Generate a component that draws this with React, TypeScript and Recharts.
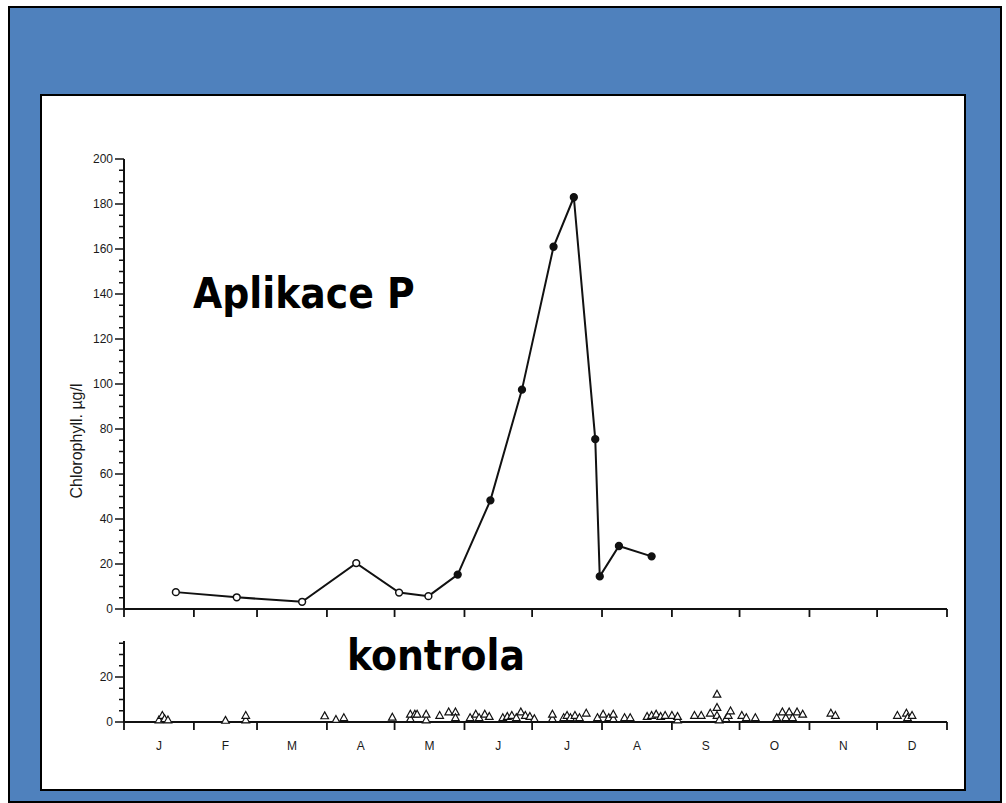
import { LineChart, Line, ScatterChart, Scatter, XAxis, YAxis } from "recharts";

// month boundaries (day of year) and labels
const monthStarts = [0, 31, 59, 90, 120, 151, 181, 212, 243, 273, 304, 334, 365];
const monthLabels = ["J", "F", "M", "A", "M", "J", "J", "A", "S", "O", "N", "D"];

// "Aplikace P" series — day of year, chlorophyll µg/l, filled marker?
const appDays = [23, 50, 79, 103, 122, 135, 148, 162.5, 176.5, 190.5, 199.5, 209, 211, 219.5, 234];
const appValues = [7.5, 5.2, 3.2, 20.4, 7.3, 5.7, 15.3, 48.3, 97.5, 161, 183, 75.5, 14.5, 28, 23.4];
const appFilled = [false, false, false, false, false, false, true, true, true, true, true, true, true, true, true];

// "kontrola" series
const ctrlDays = [
  15.5, 17, 18, 19.5, 45, 54, 54, 89, 94, 97.5,
  119, 127, 127, 129, 130, 134, 134, 140, 144, 147, 147, 153.5, 156, 157.5, 160, 162,
  168, 170, 172, 174, 176, 178, 180, 182,
  190, 190, 195, 196.5, 198, 200, 202, 205,
  210, 212.5, 215, 217, 217, 222, 224.5, 232, 234, 236, 238, 240, 243, 245.5, 245.5,
  253, 256, 260, 263, 263, 263, 264, 267, 268, 269,
  274, 276, 280, 289.5, 292, 293.5, 295, 296.5, 298.5, 301,
  313.5, 315.5, 343, 347, 347.5, 349.5,
];
const ctrlValues = [
  1, 3, 1.5, 1, 0.8, 1, 3, 2.8, 1.2, 2,
  2.2, 1.5, 3.5, 3.5, 3.5, 1, 3.5, 3, 4.5, 4.5, 2, 2, 3.5, 2, 3.5, 2.5,
  2, 2.5, 3, 2, 4.5, 3, 2.5, 1.5,
  1.5, 3.5, 2, 3, 2, 3, 2, 4,
  2, 3.5, 2, 1.5, 3.5, 2, 2, 2.5, 3, 3.5, 2.5, 3, 3, 1, 2.5,
  3, 3, 4, 12.4, 6.5, 3, 1, 1.5, 3, 5,
  3, 2, 2, 2, 4.5, 2, 4.5, 2, 4.5, 3.5,
  4, 3, 3, 4, 2, 3,
];

const topTicks = Array.from({ length: 41 }, (_, i) => i * 5);
const ctrlTicks = [0, 5, 10, 15, 20, 25, 30, 35];
const monthMids = monthLabels.map((_, i) => (monthStarts[i] + monthStarts[i + 1]) / 2);

const appData = appDays.map((d, i) => ({ day: d, value: appValues[i], filled: appFilled[i] }));
const ctrlData = ctrlDays.map((d, i) => ({ day: d, value: ctrlValues[i] }));

const INK = "#111";
const TICK_FONT = "'Liberation Sans', Arial, sans-serif";
const BIG_FONT = "'DejaVu Sans Condensed', 'DejaVu Sans', sans-serif";

function YTick({ x, y, payload }: any) {
  const major = payload.value % 20 === 0;
  return (
    <g>
      <line x1={x} x2={x - (major ? 9 : 5)} y1={y} y2={y} stroke={INK} strokeWidth={1.5} />
      {major && (
        <text x={x - 11} y={y} dy={4} textAnchor="end" fontSize={12} fontFamily={TICK_FONT} fill="#1a1a1a">
          {payload.value}
        </text>
      )}
    </g>
  );
}

function XTick({ x, y, payload }: any) {
  const idx = monthMids.indexOf(payload.value);
  if (idx >= 0) {
    return (
      <text x={x} y={y + 28} textAnchor="middle" fontSize={12} fontFamily={TICK_FONT} fill="#1a1a1a">
        {monthLabels[idx]}
      </text>
    );
  }
  return <line x1={x} x2={x} y1={y} y2={y + 8} stroke={INK} strokeWidth={1.8} />;
}

function AppDot(props: any) {
  const { cx, cy, payload, index } = props;
  return (
    <circle
      key={index}
      cx={cx}
      cy={cy}
      r={3.4}
      fill={payload.filled ? INK : "#fff"}
      stroke={INK}
      strokeWidth={1.5}
    />
  );
}

function Triangle({ cx, cy }: any) {
  const s = 3.8;
  return (
    <path
      d={`M${cx},${cy - s} L${cx + s},${cy + s * 0.8} L${cx - s},${cy + s * 0.8} Z`}
      fill="#fff"
      stroke={INK}
      strokeWidth={1.2}
    />
  );
}

function YLabel({ viewBox }: any) {
  const x = viewBox.x + 8;
  const y = viewBox.y + viewBox.height / 2 + 57;
  return (
    <text
      x={x}
      y={y}
      transform={`rotate(-90, ${x}, ${y})`}
      textAnchor="middle"
      fontSize={16}
      fontFamily={TICK_FONT}
      fill="#1a1a1a"
    >
      Chlorophyll.  µg/l
    </text>
  );
}

export default function App() {
  return (
    <div style={{ position: "absolute", left: 0, top: 0, width: 1006, height: 803, background: "#fff" }}>
      <div
        style={{
          position: "absolute",
          left: 8,
          top: 6,
          width: 990,
          height: 793,
          background: "#4F81BD",
          border: "2px solid #000",
        }}
      />
      <div
        style={{
          position: "absolute",
          left: 40,
          top: 94,
          width: 922,
          height: 693,
          background: "#fff",
          border: "2px solid #000",
        }}
      />

      <div style={{ position: "absolute", left: 0, top: 0 }}>
        <LineChart width={1006} height={650} data={appData} margin={{ top: 159, right: 59, bottom: 21, left: 74 }}>
          <XAxis
            dataKey="day"
            type="number"
            domain={[0, 365]}
            ticks={monthStarts}
            interval={0}
            tick={<XTick />}
            tickLine={false}
            tickSize={0}
            tickMargin={0}
            height={20}
            axisLine={{ stroke: INK, strokeWidth: 2 }}
          />
          <YAxis
            type="number"
            domain={[0, 200]}
            ticks={topTicks}
            interval={0}
            tick={<YTick />}
            tickLine={false}
            tickSize={0}
            tickMargin={0}
            width={50}
            axisLine={{ stroke: INK, strokeWidth: 2 }}
            label={<YLabel />}
          />
          <Line
            dataKey="value"
            stroke={INK}
            strokeWidth={2}
            dot={AppDot}
            isAnimationActive={false}
          />
        </LineChart>
      </div>

      <div style={{ position: "absolute", left: 0, top: 620 }}>
        <ScatterChart width={1006} height={180} margin={{ top: 21, right: 59, bottom: 48, left: 74 }}>
          <XAxis
            dataKey="day"
            type="number"
            domain={[0, 365]}
            ticks={[...monthStarts, ...monthMids]}
            interval={0}
            tick={<XTick />}
            tickLine={false}
            tickSize={0}
            tickMargin={0}
            height={30}
            axisLine={{ stroke: INK, strokeWidth: 2 }}
          />
          <YAxis
            dataKey="value"
            type="number"
            domain={[0, 36]}
            ticks={ctrlTicks}
            interval={0}
            tick={<YTick />}
            tickLine={false}
            tickSize={0}
            tickMargin={0}
            width={50}
            axisLine={{ stroke: INK, strokeWidth: 2 }}
          />
          <Scatter data={ctrlData} shape={<Triangle />} isAnimationActive={false} />
        </ScatterChart>
      </div>

      <svg width={1006} height={803} style={{ position: "absolute", left: 0, top: 0, pointerEvents: "none" }}>
        <text x={193} y={308} fontFamily={BIG_FONT} fontWeight="bold" fontSize={42} fill="#000">
          Aplikace P
        </text>
        <text x={347} y={670} fontFamily={BIG_FONT} fontWeight="bold" fontSize={42} fill="#000">
          kontrola
        </text>
      </svg>
    </div>
  );
}
